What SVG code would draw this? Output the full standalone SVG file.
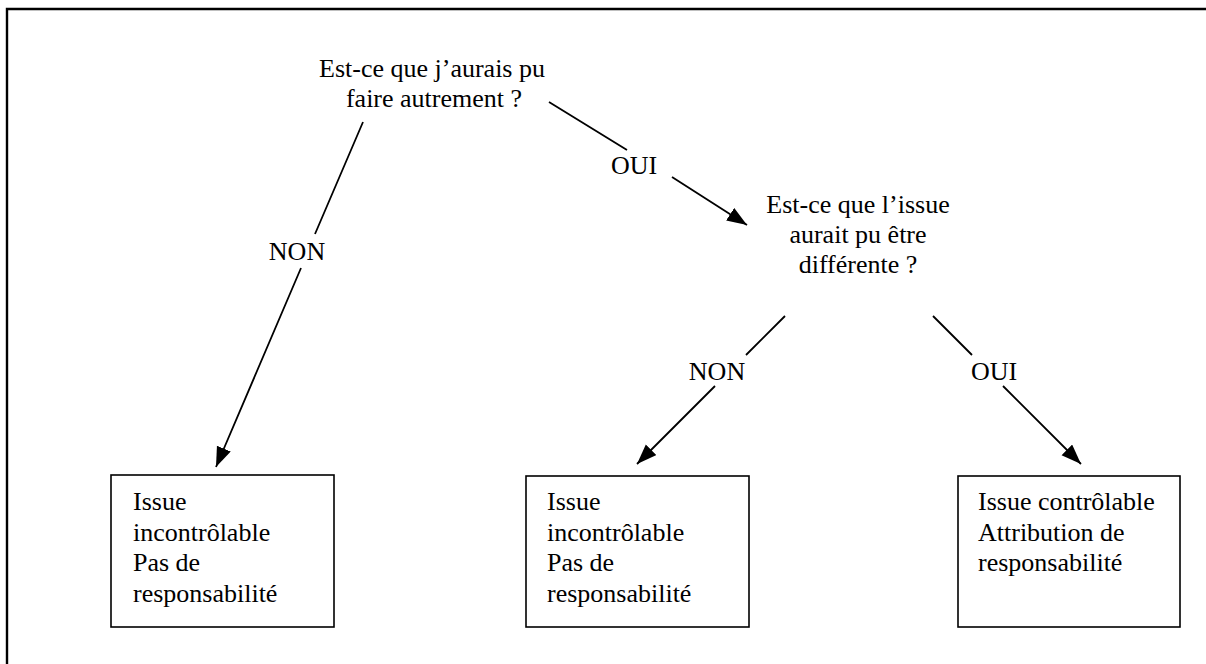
<svg xmlns="http://www.w3.org/2000/svg" width="1206" height="664" viewBox="0 0 1206 664">
<style>
  text { font-family: "Liberation Serif", "Times New Roman", serif; font-size: 26px; fill: #000; }
  .c { text-anchor: middle; }
  .box { fill: #fff; stroke: #000; stroke-width: 1.6; }
  .edge { fill: none; stroke: #000; stroke-width: 1.8; }
  .frame { fill: none; stroke: #000; stroke-width: 2.4; }
</style>
<defs>
  <marker id="arrow" markerUnits="userSpaceOnUse" markerWidth="22" markerHeight="16" refX="20" refY="7.5" orient="auto">
    <path d="M0,0 L20,7.5 L0,15 z" fill="#000"/>
  </marker>
</defs>
<rect width="1206" height="664" fill="#fff"/>
<path class="frame" d="M7,664 L7,9 L1206,9"/>

<g id="q1">
  <text class="c" x="432" y="77">Est-ce que j’aurais pu</text>
  <text class="c" x="434" y="107">faire autrement ?</text>
</g>
<g id="q2">
  <text class="c" x="858" y="213">Est-ce que l’issue</text>
  <text class="c" x="858" y="243">aurait pu être</text>
  <text class="c" x="858" y="273">différente ?</text>
</g>
<g id="box1">
  <rect class="box" x="111" y="475" width="223" height="152"/>
  <text x="133" y="510">Issue</text>
  <text x="133" y="541">incontrôlable</text>
  <text x="133" y="571">Pas de</text>
  <text x="133" y="602">responsabilité</text>
</g>
<g id="box2">
  <rect class="box" x="526" y="476" width="223" height="151"/>
  <text x="547" y="510">Issue</text>
  <text x="547" y="541">incontrôlable</text>
  <text x="547" y="571">Pas de</text>
  <text x="547" y="602">responsabilité</text>
</g>
<g id="box3">
  <rect class="box" x="958" y="476" width="222" height="151"/>
  <text x="978" y="510">Issue contrôlable</text>
  <text x="978" y="541">Attribution de</text>
  <text x="978" y="571">responsabilité</text>
</g>

<g id="connectors">
  <path class="edge" d="M363,122 L315,234 M301,268 L216,467" marker-end="url(#arrow)"/>
  <text class="c" x="297" y="260">NON</text>
  <path class="edge" d="M549,102 L627,150 M672,177 L747,225" marker-end="url(#arrow)"/>
  <text class="c" x="634" y="174">OUI</text>
  <path class="edge" d="M785,316 L746,355 M715,386 L637,464" marker-end="url(#arrow)"/>
  <text class="c" x="717" y="380">NON</text>
  <path class="edge" d="M933,316 L972,355 M1003,386 L1081,464" marker-end="url(#arrow)"/>
  <text class="c" x="994" y="380">OUI</text>
</g>
</svg>
